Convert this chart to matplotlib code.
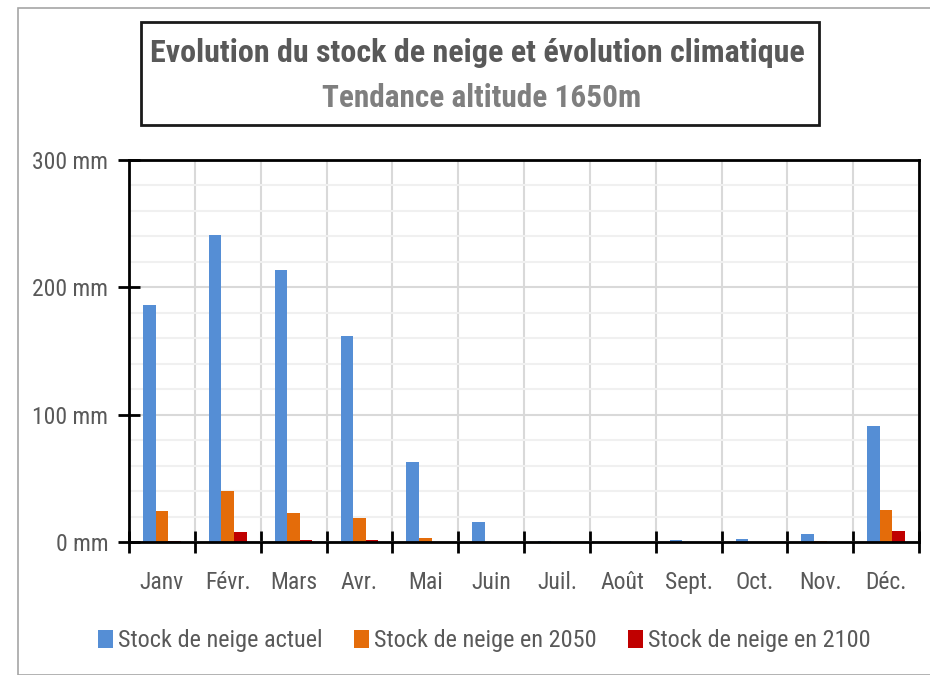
import numpy as np
import matplotlib
matplotlib.use("Agg")
import matplotlib.pyplot as plt
from matplotlib.patches import Rectangle
from matplotlib.ticker import MultipleLocator, FuncFormatter

plt.rcParams["font.family"] = ["Roboto Condensed", "Lato", "DejaVu Sans"]

# Data (mm of snow water equivalent)
months = ["Janv", "Févr.", "Mars", "Avr.", "Mai", "Juin", "Juil.",
          "Août", "Sept.", "Oct.", "Nov.", "Déc."]
stock_actuel = [186, 241, 214, 162, 63, 16, 1, 0, 1.5, 2, 6.5, 91]
stock_2050 = [24, 40, 22.5, 18.5, 3.5, 0, 0, 0, 0, 0, 0.5, 25.5]
stock_2100 = [1, 7.5, 1.5, 1.5, 0, 0, 0, 0, 0, 0, 0, 9]
series_labels = ["Stock de neige actuel", "Stock de neige en 2050",
                 "Stock de neige en 2100"]
colors = ["#558ed5", "#e46c0a", "#c00000"]

text_grey = "#595959"

fig = plt.figure(figsize=(9.3, 6.75), dpi=100)
W, H = 930, 675

# outer frame of the chart area
fig.patches.append(Rectangle((18 / W, 0), 1, 1 - 8 / H, transform=fig.transFigure,
                             fill=False, edgecolor="#a6a6a6", linewidth=1.2))

# title box
fig.patches.append(Rectangle((141 / W, 1 - 125 / H), (819 - 141) / W, (125 - 22) / H,
                             transform=fig.transFigure, fill=False,
                             edgecolor="#1a1a1a", linewidth=2))
fig.text(477 / W, 1 - 53 / H, "Evolution du stock de neige et évolution climatique",
         ha="center", va="center", fontsize=23, fontweight="bold", color=text_grey)
fig.text(482 / W, 1 - 98 / H, "Tendance altitude 1650m",
         ha="center", va="center", fontsize=22.5, fontweight="bold", color="#7f7f7f")

ax = fig.add_axes([129 / W, 1 - 542 / H, (919 - 129) / W, (542 - 160) / H])

x = np.arange(len(months))
bw = 0.19
for i, (vals, lab, c) in enumerate(zip([stock_actuel, stock_2050, stock_2100],
                                        series_labels, colors)):
    ax.bar(x + (i - 1) * bw, vals, width=bw, color=c, label=lab, zorder=2)

ax.set_xlim(-0.5, len(months) - 0.5)
ax.set_ylim(0, 300)

ax.yaxis.set_major_locator(MultipleLocator(100))
ax.yaxis.set_minor_locator(MultipleLocator(20))
ax.yaxis.set_major_formatter(FuncFormatter(lambda v, p: f"{int(v)} mm"))

ax.set_xticks(x)
ax.set_xticklabels(months)
ax.set_xticks(np.arange(-0.5, len(months)), minor=True)

ax.grid(axis="y", which="minor", color="#f0f0f0", linewidth=1.5, zorder=0)
ax.grid(axis="y", which="major", color="#d9d9d9", linewidth=1.5, zorder=0)
ax.grid(axis="x", which="minor", color="#d9d9d9", linewidth=1.5, zorder=0)
ax.set_axisbelow(True)

for s in ax.spines.values():
    s.set_color("black")
    s.set_linewidth(2)

ax.tick_params(axis="y", which="major", direction="inout", length=16, width=2,
               labelsize=17, labelcolor=text_grey, pad=7)
ax.tick_params(axis="y", which="minor", length=0)
ax.tick_params(axis="x", which="major", length=0, labelsize=17,
               labelcolor=text_grey, pad=21)
ax.tick_params(axis="x", which="minor", direction="inout", length=16, width=2)

handles, labels = ax.get_legend_handles_labels()
fig.legend(handles, labels, loc="center", bbox_to_anchor=(484 / W, 1 - 641 / H),
           ncol=3, frameon=False, fontsize=17.5, labelcolor=text_grey,
           handlelength=0.62, handleheight=0.75, handletextpad=0.2, columnspacing=1.3)

fig.savefig("out.png", dpi=100)
